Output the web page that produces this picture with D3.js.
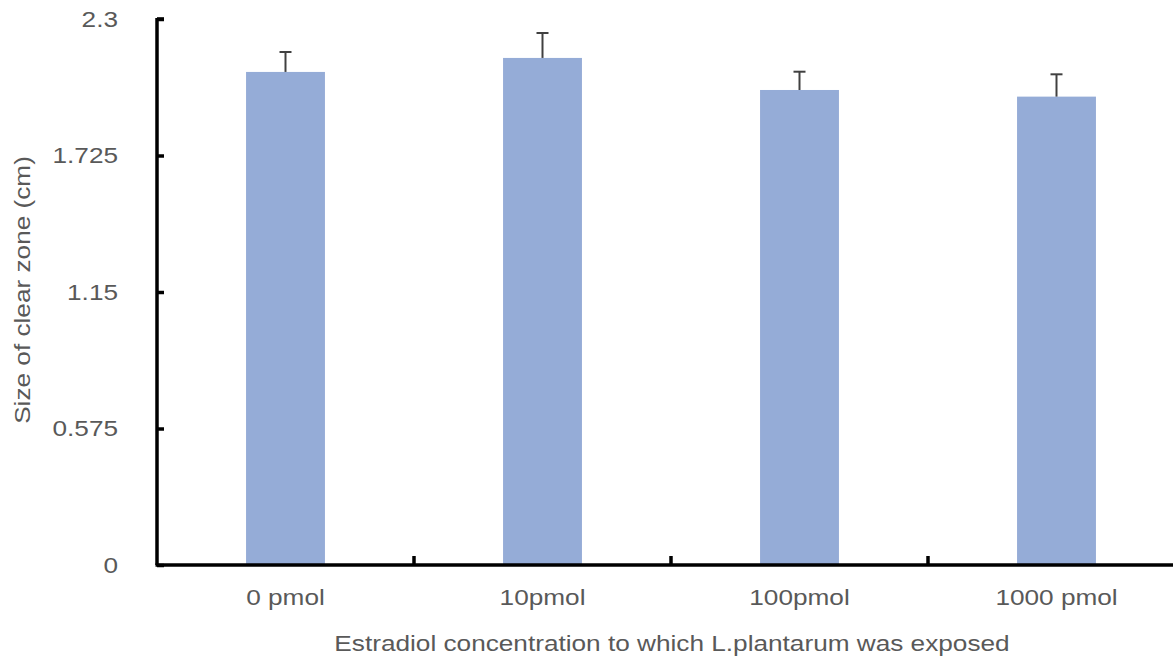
<!DOCTYPE html>
<html>
<head>
<meta charset="utf-8">
<script src="https://cdn.jsdelivr.net/npm/d3@7"></script>
<style>
  html, body { margin: 0; padding: 0; background: #fff; }
  svg { display: block; font-family: "Liberation Sans", Arial, sans-serif; }
</style>
</head>
<body>
<svg id="chart" width="1173" height="657"></svg>
<script>
const categories = ["0 pmol", "10pmol", "100pmol", "1000 pmol"];
const values = [2.077, 2.136, 2.001, 1.973];
const errors = [0.084, 0.105, 0.077, 0.094];
const yTickValues = [0, 0.575, 1.15, 1.725, 2.3];
const yTickLabels = ["0", "0.575", "1.15", "1.725", "2.3"];
const xTitle = "Estradiol concentration to which L.plantarum was exposed";
const yTitle = "Size of clear zone (cm)";

const svg = d3.select("#chart");
const textColor = "#595959";
const barColor = "#95acd7";
const fontSize = 22;
const stretch = 1.19;

const x = d3.scaleBand().domain(categories).range([157, 1185]).padding(0);
const y = d3.scaleLinear().domain([0, 2.3]).range([565, 19]);
const barW = x.bandwidth() * 0.307;

// bars
svg.append("g").selectAll("rect").data(categories).join("rect")
  .attr("x", (d) => x(d) + (x.bandwidth() - barW) / 2)
  .attr("y", (d, i) => y(values[i]))
  .attr("width", barW)
  .attr("height", (d, i) => y(0) - y(values[i]))
  .attr("fill", barColor);

// error bars
const eb = svg.append("g").attr("stroke", "#404040").attr("stroke-width", 2);
categories.forEach((c, i) => {
  const cx = x(c) + x.bandwidth() / 2;
  eb.append("line").attr("x1", cx).attr("x2", cx)
    .attr("y1", y(values[i])).attr("y2", y(values[i] + errors[i]));
  eb.append("line").attr("x1", cx - 6).attr("x2", cx + 6)
    .attr("y1", y(values[i] + errors[i])).attr("y2", y(values[i] + errors[i]));
});

// y axis
const yAxis = d3.axisLeft(y)
  .tickValues(yTickValues)
  .tickFormat((d, i) => yTickLabels[i])
  .tickSizeInner(-7)
  .tickSizeOuter(0)
  .tickPadding(39);
const gy = svg.append("g").attr("transform", "translate(157,0)").call(yAxis);
gy.select(".domain").attr("stroke", "#000").attr("stroke-width", 3.5)
  .attr("d", `M0,${y(2.3) - 1}V${y(0)}`);
gy.selectAll(".tick line").attr("stroke", "#000").attr("stroke-width", 3.5);
gy.selectAll(".tick text").attr("fill", textColor).attr("font-size", fontSize)
  .attr("font-family", "Liberation Sans, Arial, sans-serif");
gy.append("line").attr("x1", 0).attr("x2", 7).attr("y1", y(2.3)).attr("y2", y(2.3))
  .attr("stroke", "#000").attr("stroke-width", 3.5);

// x axis
const xAxis = d3.axisBottom(x).tickSize(0).tickPadding(24);
const gx = svg.append("g").attr("transform", `translate(0,${y(0)})`).call(xAxis);
gx.select(".domain").attr("stroke", "#000").attr("stroke-width", 3.5)
  .attr("d", `M155.5,0H1173`);
gx.selectAll(".tick text").attr("fill", textColor).attr("font-size", fontSize)
  .attr("font-family", "Liberation Sans, Arial, sans-serif");
gx.append("g").selectAll("line").data(categories.slice(1)).join("line")
  .attr("x1", (d) => x(d)).attr("x2", (d) => x(d))
  .attr("y1", 0).attr("y2", -9)
  .attr("stroke", "#000").attr("stroke-width", 3.5);

// titles
svg.append("text")
  .attr("x", 672)
  .attr("y", 651)
  .attr("text-anchor", "middle")
  .attr("fill", textColor)
  .attr("font-size", fontSize)
  .text(xTitle);

svg.append("text")
  .attr("transform", `translate(30,290) rotate(-90)`)
  .attr("text-anchor", "middle")
  .attr("fill", textColor)
  .attr("font-size", fontSize)
  .text(yTitle);

// widen glyphs to match the reference's wide lettering
svg.selectAll("text").each(function () {
  const len = this.getComputedTextLength();
  d3.select(this).attr("textLength", len * stretch).attr("lengthAdjust", "spacingAndGlyphs");
});
</script>
</body>
</html>
